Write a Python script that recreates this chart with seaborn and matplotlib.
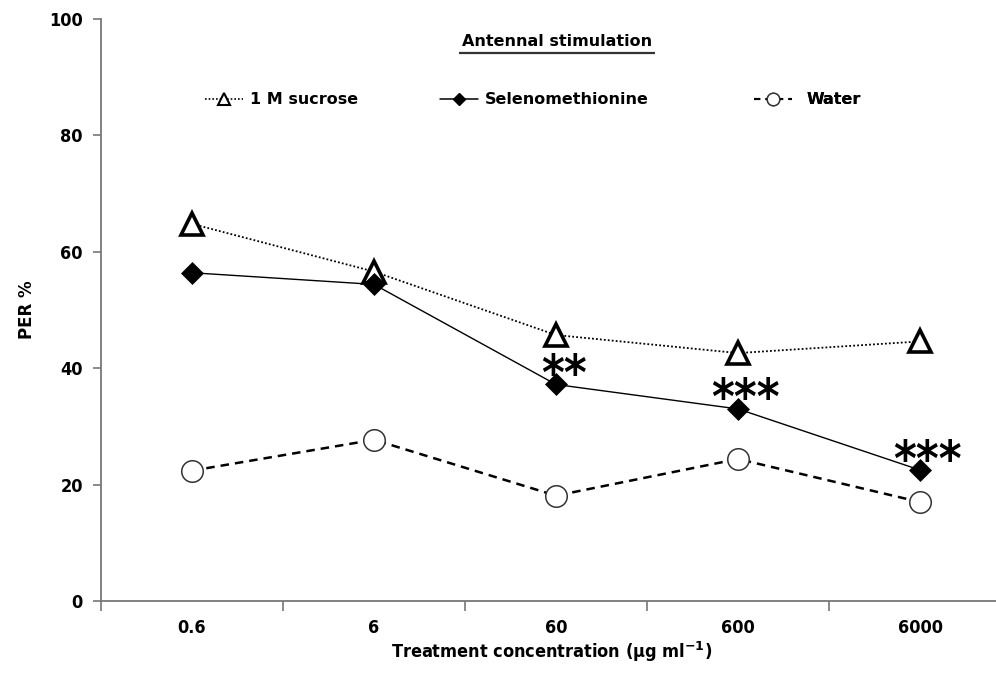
import matplotlib
matplotlib.use("Agg")
import matplotlib.pyplot as plt
from matplotlib.lines import Line2D
import seaborn as sns
import pandas as pd

# Treatment concentrations (ug/ml) and PER responses (%)
concentrations = ["0.6", "6", "60", "600", "6000"]
sucrose = [64.8, 56.6, 45.7, 42.6, 44.6]
selenomethionine = [56.4, 54.4, 37.2, 33.0, 22.5]
water = [22.4, 27.7, 18.1, 24.4, 17.0]
significance = ["", "", "**", "***", "***"]

series_names = ["1 M sucrose", "Selenomethionine", "Water"]

sns.set_theme(style="white")
plt.rcParams["font.family"] = ["DejaVu Sans"]
plt.rcParams["font.weight"] = "bold"
plt.rcParams["mathtext.fontset"] = "dejavusans"
for key in ["text.color", "axes.labelcolor", "xtick.color", "ytick.color"]:
    plt.rcParams[key] = "black"

df = pd.DataFrame({
    "conc": concentrations * 3,
    "per": sucrose + selenomethionine + water,
    "series": [s for s in series_names for _ in concentrations],
})

fig = plt.figure(figsize=(9.96, 6.92), dpi=100)
ax = fig.add_axes([101 / 996, 91 / 692, 910 / 996, 582 / 692])

styles = {
    "1 M sucrose": dict(linestyle=(0, (1, 1.2)), linewidth=1.3, marker="^",
                        markersize=15.5, markerfacecolor="white",
                        markeredgecolor="black", markeredgewidth=2.6),
    "Selenomethionine": dict(linestyle="-", linewidth=1.0, marker="D",
                             markersize=11.5, markerfacecolor="black",
                             markeredgecolor="black", markeredgewidth=0.5),
    "Water": dict(linestyle=(0, (3.4, 2.4)), linewidth=1.8, marker="o",
                  markersize=15.5, markerfacecolor="white",
                  markeredgecolor="#333333", markeredgewidth=1.1),
}

for name in series_names:
    sub = df[df["series"] == name]
    sns.lineplot(data=sub, x="conc", y="per", ax=ax, color="black",
                 sort=False, legend=False, **styles[name])

# significance stars above the selenomethionine points
for i, (lab, val) in enumerate(zip(significance, selenomethionine)):
    if lab:
        ax.annotate(lab, (i, val), xytext=(5.5, -4), textcoords="offset points",
                    ha="center", va="baseline", fontsize=35,
                    fontweight="bold", fontstretch="condensed", color="black")

ax.set_xlim(-0.5, 4.5)
ax.set_ylim(0, 100)
ax.set_yticks([0, 20, 40, 60, 80, 100])
ax.set_xticks([i - 0.5 for i in range(len(concentrations) + 1)])
ax.set_xticklabels([])
ax.set_xticks(range(len(concentrations)), minor=True)
ax.set_xticklabels(concentrations, minor=True)

for side in ["top", "right"]:
    ax.spines[side].set_visible(False)
for side in ["left", "bottom"]:
    ax.spines[side].set_color("#777777")
    ax.spines[side].set_linewidth(1.3)

ax.tick_params(axis="y", which="major", direction="out", length=6, width=1.2,
               color="#777777", labelsize=13, pad=7, left=True)
ax.tick_params(axis="x", which="major", direction="out", length=7, width=1.2,
               color="#777777", bottom=True)
ax.tick_params(axis="x", which="minor", length=0, labelsize=13, pad=13)
for lbl in ax.get_yticklabels() + ax.get_xticklabels(minor=True):
    lbl.set_fontweight("bold")
    lbl.set_fontstretch("condensed")

ax.set_xlabel(r"Treatment concentration (µg ml$^{\mathbf{-1}}$)", fontsize=13,
              fontweight="bold", fontstretch="condensed")
ax.set_ylabel("PER %", fontsize=12, fontweight="bold")
ax.xaxis.set_label_coords((552 - 101) / 910, -(640 - 601) / 582)
ax.yaxis.set_label_coords(-(101 - 36) / 910, 0.5)

# underlined panel heading
ax.text((557 - 101) / 910, (601 - 42) / 582, "Antennal stimulation",
        transform=ax.transAxes, ha="center", va="center", fontsize=11.5,
        fontweight="bold")
ax.plot([(459 - 101) / 910, (655 - 101) / 910], [(601 - 53) / 582] * 2,
        transform=ax.transAxes, color="#333333", linewidth=1.6,
        solid_capstyle="butt")

# one-entry legends laid out along a single row
handles = [
    Line2D([], [], color="black", linestyle=(0, (1, 1.2)), linewidth=1.2,
           marker="^", markersize=8, markerfacecolor="white",
           markeredgecolor="black", markeredgewidth=1.5),
    Line2D([], [], color="black", linestyle="-", linewidth=1.1, marker="D",
           markersize=6.5, markerfacecolor="black", markeredgecolor="black"),
    Line2D([], [], color="black", linestyle=(0, (3, 2.5)), linewidth=1.5,
           marker="o", markersize=9, markerfacecolor="white",
           markeredgecolor="#333333", markeredgewidth=1.0),
]
entry_left = [205, 440, 754]
entry_pad = [0.4, 0.4, 0.9]
for handle, label, left, pad in zip(handles, series_names, entry_left, entry_pad):
    leg = ax.legend([handle], [label], loc="center left",
                    bbox_to_anchor=((left - 101) / 910, (601 - 100) / 582),
                    frameon=False, handlelength=2.4, handletextpad=pad,
                    borderpad=0, borderaxespad=0,
                    prop={"size": 11.5, "weight": "bold"})
    ax.add_artist(leg)

fig.savefig("out.png", dpi=100, facecolor="white")
